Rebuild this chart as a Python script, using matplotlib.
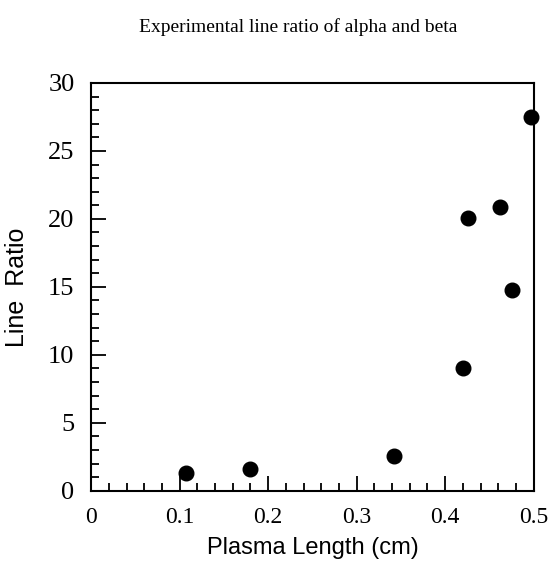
import numpy as np
import matplotlib.pyplot as plt
from matplotlib.ticker import MultipleLocator

# values
plasma_length = [0.107, 0.179, 0.342, 0.420, 0.426, 0.462, 0.476, 0.497]
line_ratio = [1.3, 1.6, 2.55, 9.0, 20.1, 20.9, 14.8, 27.5]
x_ticks = [0, 0.1, 0.2, 0.3, 0.4, 0.5]
x_labels = ['0', '0.1', '0.2', '0.3', '0.4', '0.5']
y_ticks = [0, 5, 10, 15, 20, 25, 30]

fig = plt.figure(figsize=(5.49, 5.72), dpi=100)
ax = fig.add_axes([0.166, 0.142, 0.806, 0.713])

ax.plot(plasma_length, line_ratio, 'o', color='black', markersize=10.5, clip_on=False, zorder=3)

ax.set_xlim(0, 0.5)
ax.set_ylim(0, 30)
ax.set_xticks(x_ticks)
ax.set_xticklabels(x_labels)
ax.set_yticks(y_ticks)
ax.xaxis.set_minor_locator(MultipleLocator(0.02))
ax.yaxis.set_minor_locator(MultipleLocator(1))
ax.tick_params(which='both', direction='in', top=False, right=False, width=1.3)
ax.tick_params(which='major', length=11, pad=12)
ax.tick_params(which='minor', length=6)
for lab in ax.get_xticklabels():
    lab.set_fontfamily('Liberation Serif')
    lab.set_fontsize(17)
for lab in ax.get_yticklabels():
    lab.set_fontfamily('Liberation Serif')
    lab.set_fontsize(19)
for s in ax.spines.values():
    s.set_linewidth(1.5)

ax.set_xlabel('Plasma Length (cm)', fontfamily='Liberation Sans', fontsize=17, labelpad=6)
ax.set_ylabel('Line  Ratio', fontfamily='Liberation Sans', fontsize=18, labelpad=14)
fig.text(0.543, 0.953, 'Experimental line ratio of alpha and beta', ha='center', va='center',
         fontfamily='Liberation Serif', fontsize=14)

fig.savefig('out.png', dpi=100)
